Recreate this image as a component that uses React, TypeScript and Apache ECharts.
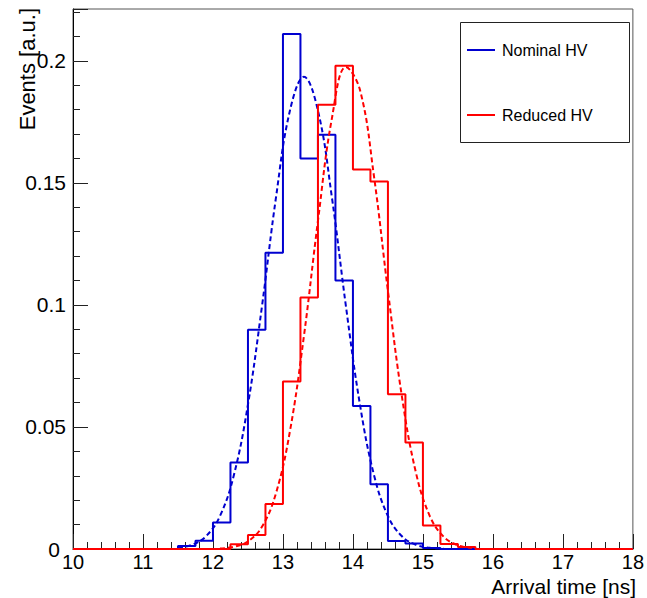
import React, { useEffect, useRef } from "react";
import * as echarts from "echarts";

// Histogram binning (0.25 ns bins from 10 to 18 ns)
const binStarts = [
  10, 10.25, 10.5, 10.75, 11, 11.25, 11.5, 11.75, 12, 12.25, 12.5, 12.75,
  13, 13.25, 13.5, 13.75, 14, 14.25, 14.5, 14.75, 15, 15.25, 15.5, 15.75,
  16, 16.25, 16.5, 16.75, 17, 17.25, 17.5, 17.75,
];
const histEnd = 18;

// Bin contents
const nominalCounts = [
  0, 0, 0, 0, 0, 0, 0.0012, 0.0034, 0.0109, 0.0354, 0.0898, 0.1214,
  0.211, 0.16, 0.1697, 0.11, 0.0586, 0.0265, 0.0033, 0.0023, 0.0004, 0, 0, 0,
  0, 0, 0, 0, 0, 0, 0, 0,
];
const reducedCounts = [
  0, 0, 0, 0, 0, 0, 0, 0, 0, 0.0019, 0.0057, 0.0184,
  0.0686, 0.103, 0.182, 0.198, 0.1555, 0.1505, 0.0634, 0.0436, 0.0096, 0.002, 0.0008, 0,
  0, 0, 0, 0, 0, 0, 0, 0,
];

const nominalFitX = [
  11.5, 11.7, 11.9, 12.1, 12.3, 12.5, 12.7, 12.9, 13.1, 13.3, 13.5, 13.7,
  13.9, 14.1, 14.3, 14.5, 14.7, 14.9, 15.1, 15.3,
];
const nominalFitY = [
  0.0005, 0.0017, 0.0052, 0.0135, 0.0304, 0.0592, 0.0994, 0.1439, 0.1796, 0.1934,
  0.1796, 0.1439, 0.0994, 0.0592, 0.0304, 0.0135, 0.0052, 0.0017, 0.0005, 0.0001,
];
const reducedFitX = [
  12.1, 12.3, 12.5, 12.7, 12.9, 13.1, 13.3, 13.5, 13.7, 13.9, 14.1, 14.3,
  14.5, 14.7, 14.9, 15.1, 15.3, 15.5, 15.7,
];
const reducedFitY = [
  0.0002, 0.0009, 0.0031, 0.0091, 0.0228, 0.0483, 0.0873, 0.1344, 0.1765, 0.1974,
  0.1881, 0.1528, 0.1057, 0.0624, 0.0313, 0.0134, 0.0049, 0.0015, 0.0004,
];

const seriesNames = ["Nominal HV", "Reduced HV"];
const xTitle = "Arrival time [ns]";
const yTitle = "Events [a.u.]";

const BLUE = "#0000d0";
const RED = "#ff0000";
const FONT = "Liberation Sans, Arial, Helvetica, sans-serif";

function histData(counts: number[]) {
  const pts: [number, number][] = binStarts.map((x, i) => [x, counts[i]]);
  pts.push([histEnd, counts[counts.length - 1]]);
  return pts;
}

function fitData(xs: number[], ys: number[]) {
  return xs.map((x, i) => [x, ys[i]]);
}

export default function App() {
  const ref = useRef<HTMLDivElement>(null);

  useEffect(() => {
    if (!ref.current) return;
    const chart = echarts.init(ref.current, null, { renderer: "svg" });
    const tickColor = "#222";
    chart.setOption({
      animation: false,
      backgroundColor: "#ffffff",
      grid: {
        left: 73,
        right: 11,
        top: 9,
        bottom: 49,
        show: true,
        borderColor: "#555",
        borderWidth: 1,
        backgroundColor: "transparent",
      },
      xAxis: {
        type: "value",
        min: 10,
        max: 18,
        interval: 1,
        axisLine: { show: true, onZero: false, lineStyle: { color: "#000", width: 1 } },
        axisTick: { show: true, inside: true, length: 15, lineStyle: { color: tickColor } },
        minorTick: { show: true, splitNumber: 5, length: 7, lineStyle: { color: tickColor } },
        splitLine: { show: false },
        minorSplitLine: { show: false },
        axisLabel: {
          fontSize: 20,
          lineHeight: 16,
          fontFamily: FONT,
          color: "#000",
          margin: 5,
        },
      },
      yAxis: {
        type: "value",
        min: 0,
        max: 0.2212,
        interval: 0.05,
        axisLine: { show: true, onZero: false, lineStyle: { color: "#000", width: 1 } },
        axisTick: { show: true, inside: true, length: 15, lineStyle: { color: tickColor } },
        minorTick: { show: true, splitNumber: 5, length: 7, lineStyle: { color: tickColor } },
        splitLine: { show: false },
        minorSplitLine: { show: false },
        axisLabel: {
          fontSize: 21,
          fontFamily: FONT,
          color: "#000",
          margin: 7,
          showMaxLabel: false,
          formatter: (v: number) => (v === 0 ? "{zero|0}" : String(v)),
          rich: {
            zero: {
              fontSize: 21,
              fontFamily: FONT,
              color: "#000",
              padding: [0, 6, 0, 0],
            },
          },
        },
      },
      legend: {
        data: seriesNames.map((n) => ({ name: n, icon: "rect" })),
        orient: "vertical",
        left: 467,
        top: 40,
        itemWidth: 28,
        itemHeight: 2,
        itemGap: 45,
        padding: 0,
        itemStyle: { borderWidth: 0 },
        textStyle: {
          fontSize: 16,
          fontFamily: FONT,
          color: "#000",
          lineHeight: 20,
          padding: [0, 0, 0, 2],
        },
        z: 6,
      },
      graphic: [
        {
          type: "rect",
          z: 5,
          shape: { x: 460.5, y: 22.5, width: 169, height: 120 },
          style: { fill: "#ffffff", stroke: "#222", lineWidth: 1 },
        },
        {
          type: "text",
          x: 636,
          y: 576,
          style: {
            text: xTitle,
            fontSize: 21,
            lineHeight: 21,
            fontFamily: FONT,
            fill: "#000",
            align: "right",
            verticalAlign: "top",
          },
        },
        {
          type: "text",
          x: 27,
          y: 8,
          rotation: Math.PI / 2,
          style: {
            text: yTitle,
            fontSize: 22,
            fontFamily: FONT,
            fill: "#000",
            align: "right",
            verticalAlign: "middle",
          },
        },
      ],
      series: [
        {
          name: seriesNames[0],
          type: "line",
          step: "end",
          data: histData(nominalCounts),
          symbol: "none",
          clip: false,
          lineStyle: { color: BLUE, width: 2 },
          itemStyle: { color: BLUE },
          z: 2,
        },
        {
          name: "Nominal HV fit",
          type: "line",
          smooth: 0.4,
          data: fitData(nominalFitX, nominalFitY),
          symbol: "none",
          clip: false,
          lineStyle: { color: BLUE, width: 2, type: [5, 3] },
          itemStyle: { color: BLUE },
          z: 3,
        },
        {
          name: seriesNames[1],
          type: "line",
          step: "end",
          data: histData(reducedCounts),
          symbol: "none",
          clip: false,
          lineStyle: { color: RED, width: 2 },
          itemStyle: { color: RED },
          z: 4,
        },
        {
          name: "Reduced HV fit",
          type: "line",
          smooth: 0.4,
          data: fitData(reducedFitX, reducedFitY),
          symbol: "none",
          clip: false,
          lineStyle: { color: RED, width: 2, type: [5, 3] },
          itemStyle: { color: RED },
          z: 5,
        },
      ],
    });
    return () => chart.dispose();
  }, []);

  return (
    <div
      ref={ref}
      style={{ position: "absolute", left: 0, top: 0, width: 647, height: 598 }}
    />
  );
}
